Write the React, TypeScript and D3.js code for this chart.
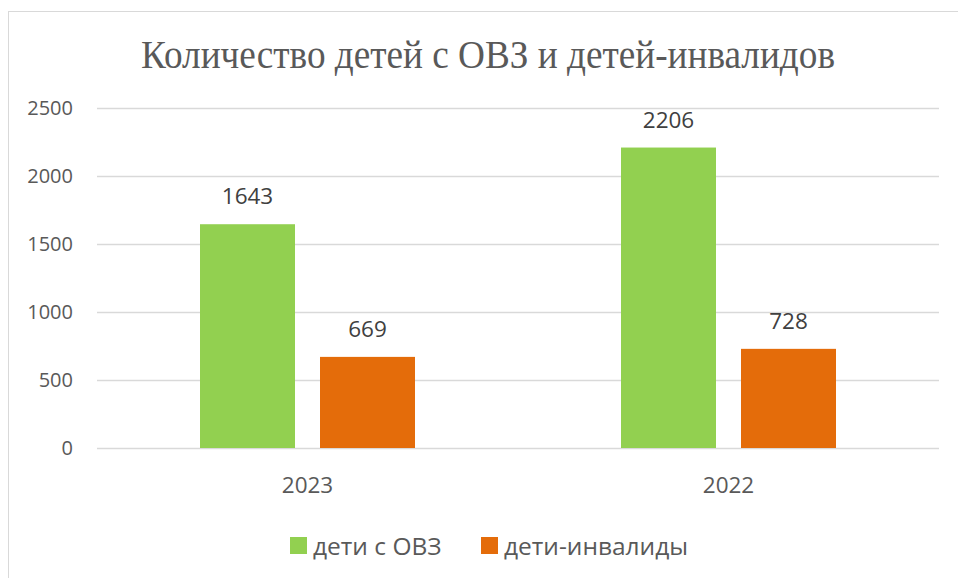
import { useEffect, useRef } from 'react';
import * as d3 from 'd3';

const title = 'Количество детей с ОВЗ и детей-инвалидов';
const categories = ['2023', '2022'];
const seriesNames = ['дети с ОВЗ', 'дети-инвалиды'];
const seriesColors = ['#92D050', '#E46C0A'];
const ovzValues = [1643, 2206];
const invalidValues = [669, 728];
const yTicks = [0, 500, 1000, 1500, 2000, 2500];

export default function App() {
  const svgRef = useRef<SVGSVGElement | null>(null);

  useEffect(() => {
    const svg = d3.select(svgRef.current);
    svg.selectAll('*').remove();

    const width = 958;
    const height = 578;
    const left = 97;
    const right = 939;
    const top = 107.5;
    const bottom = 448;
    const labelFont = '"Open Sans", Lato, sans-serif';

    svg.attr('width', width).attr('height', height);

    svg.append('rect').attr('width', width).attr('height', height).attr('fill', '#fff');

    // chart frame (runs off right and bottom edge)
    svg.append('rect')
      .attr('x', 8.5)
      .attr('y', 11.5)
      .attr('width', 1000)
      .attr('height', 1000)
      .attr('fill', 'none')
      .attr('stroke', '#D9D9D9');

    svg.append('text')
      .attr('x', 488)
      .attr('y', 67.5)
      .attr('text-anchor', 'middle')
      .attr('font-family', '"Liberation Serif", "DejaVu Serif", serif')
      .attr('font-size', 41)
      .attr('textLength', 694)
      .attr('lengthAdjust', 'spacingAndGlyphs')
      .attr('fill', '#595959')
      .text(title);

    const y = d3.scaleLinear().domain([0, 2500]).range([bottom, top]);
    const x0 = d3.scaleBand().domain(categories).range([left, right]).padding(0);
    const groupW = 215;
    const x1 = d3.scaleBand().domain(seriesNames).range([0, groupW]).paddingInner(25 / 120).paddingOuter(0);

    // gridlines
    svg.append('g')
      .selectAll('line')
      .data(yTicks)
      .join('line')
      .attr('x1', left)
      .attr('x2', right)
      .attr('y1', (d) => Math.round(y(d)) + 0.5)
      .attr('y2', (d) => Math.round(y(d)) + 0.5)
      .attr('stroke', '#D9D9D9')
      .attr('stroke-width', 1.3);

    // y tick labels
    svg.append('g')
      .selectAll('text')
      .data(yTicks)
      .join('text')
      .attr('x', 73)
      .attr('y', (d) => y(d) + 7)
      .attr('text-anchor', 'end')
      .attr('font-family', labelFont)
      .attr('font-size', 20)
      .attr('fill', '#595959')
      .text((d) => String(d));

    // category labels
    svg.append('g')
      .selectAll('text')
      .data(categories)
      .join('text')
      .attr('x', (d) => (x0(d) ?? 0) + x0.bandwidth() / 2)
      .attr('y', 493)
      .attr('text-anchor', 'middle')
      .attr('font-family', labelFont)
      .attr('font-size', 22.5)
      .attr('fill', '#595959')
      .text((d) => d);

    const series = [ovzValues, invalidValues];
    series.forEach((vals, si) => {
      const name = seriesNames[si];
      const g = svg.append('g');
      const rows = categories.map((c, i) => ({ c, v: vals[i] }));
      const bx = (d: { c: string }) =>
        (x0(d.c) ?? 0) + (x0.bandwidth() - groupW) / 2 + (x1(name) ?? 0);

      g.selectAll('rect')
        .data(rows)
        .join('rect')
        .attr('x', bx)
        .attr('y', (d) => y(d.v))
        .attr('width', x1.bandwidth())
        .attr('height', (d) => bottom - y(d.v))
        .attr('fill', seriesColors[si]);

      g.selectAll('text')
        .data(rows)
        .join('text')
        .attr('x', (d) => bx(d) + x1.bandwidth() / 2)
        .attr('y', (d) => y(d.v) - 20)
        .attr('text-anchor', 'middle')
        .attr('font-family', labelFont)
        .attr('font-size', 22.5)
        .attr('fill', '#404040')
        .text((d) => String(d.v));
    });

    // legend
    const legendX = [290, 481];
    seriesNames.forEach((name, i) => {
      svg.append('rect')
        .attr('x', legendX[i])
        .attr('y', 537)
        .attr('width', 17)
        .attr('height', 17)
        .attr('fill', seriesColors[i]);
      svg.append('text')
        .attr('x', legendX[i] + 23)
        .attr('y', 555)
        .attr('font-family', labelFont)
        .attr('font-size', 24.5)
        .attr('fill', '#595959')
        .text(name);
    });
  }, []);

  return (
    <svg
      ref={svgRef}
      style={{ position: 'absolute', left: 0, top: 0, display: 'block' }}
    />
  );
}
